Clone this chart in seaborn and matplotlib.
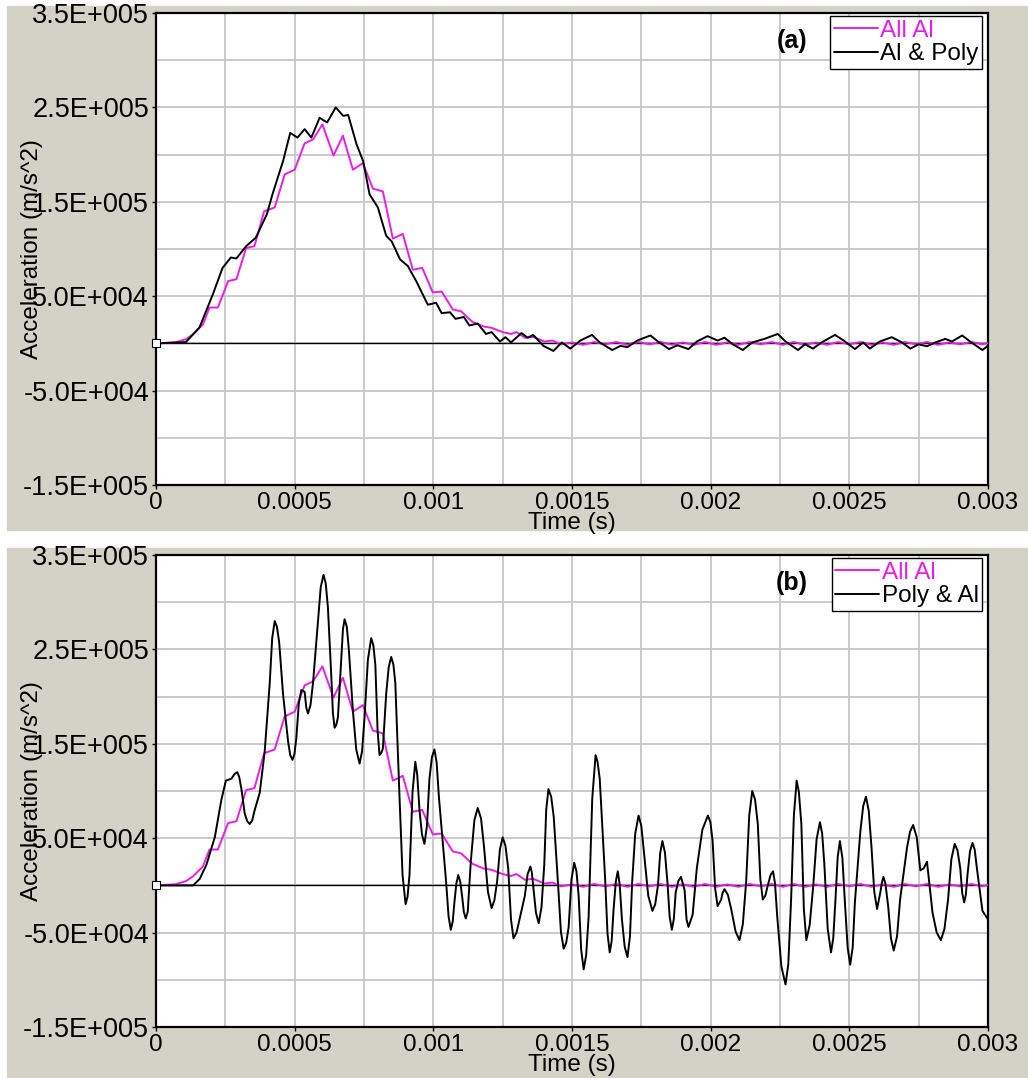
import numpy as np
import pandas as pd
import matplotlib
matplotlib.use("Agg")
import matplotlib.pyplot as plt
from matplotlib.patches import Rectangle
import seaborn as sns

# ---- data (time in s, acceleration in m/s^2) ----
# "All Al" curve (same in both panels)
t_all_al = [0, 0.00007, 0.000108, 0.000133, 0.000169, 0.000193, 0.000223, 0.00026, 0.00029,
            0.000325, 0.000355, 0.00039, 0.000428, 0.000464, 0.0005, 0.000536, 0.000566,
            0.0006, 0.00064, 0.000674, 0.00071, 0.000746, 0.000782, 0.000818, 0.000854,
            0.00089, 0.000926, 0.00096, 0.000998, 0.00103, 0.00107, 0.0011, 0.00114,
            0.00118, 0.00121, 0.00125, 0.00128, 0.0013, 0.00133, 0.00136, 0.0014, 0.00143,
            0.00146, 0.0015, 0.00154, 0.00158, 0.00162, 0.00166, 0.0017, 0.00174, 0.00178,
            0.00182, 0.00186, 0.0019, 0.00194, 0.00198, 0.00202, 0.00206, 0.0021, 0.00214,
            0.00218, 0.00222, 0.00226, 0.0023, 0.00234, 0.00238, 0.00242, 0.00246, 0.0025,
            0.00254, 0.00258, 0.00262, 0.00266, 0.0027, 0.00274, 0.00278, 0.00282, 0.00286,
            0.0029, 0.00294, 0.00298, 0.003]
a_all_al = [0, 1200, 4500, 9500, 20000, 38000, 38000, 66000, 68000,
            101000, 103000, 140000, 144000, 179000, 184000, 212000, 216000,
            232000, 199000, 220000, 184000, 191000, 164000, 161000, 111000,
            116000, 78000, 80000, 54000, 55000, 36000, 34000, 23000,
            18000, 16500, 12000, 10000, 12000, 6000, 7000, 2000, 3000,
            -1000, 1000, -1500, 1500, -1000, 1500, -1500, 1500, -1000,
            1500, -1500, 1000, -1500, 1500, -1500, 1000, -1500, 1500,
            -1000, 1500, -1500, 1500, -1500, 1000, -1500, 1500, -1000,
            1500, -1500, 1000, -1500, 1500, -1000, 1500, -1500, 1000,
            -1000, 1500, -1000, 500]

# "Al & Poly" curve, panel (a)
t_al_poly = [0, 0.000108, 0.000157, 0.000205, 0.00024, 0.00027, 0.00029, 0.000325, 0.00036,
             0.0004, 0.00042, 0.000458, 0.000484, 0.00051, 0.000536, 0.00056, 0.00059,
             0.000617, 0.000648, 0.000675, 0.000693, 0.000723, 0.000747, 0.00077, 0.0008,
             0.00083, 0.00085, 0.00088, 0.000908, 0.00094, 0.00098, 0.00101, 0.00103,
             0.00106, 0.00108, 0.00111, 0.00113, 0.00116, 0.00119, 0.00121, 0.00124,
             0.00126, 0.00128, 0.001318, 0.00134, 0.00136, 0.001397, 0.001433, 0.001463,
             0.001494, 0.00153, 0.001572, 0.0016, 0.001645, 0.001675, 0.0017, 0.001735,
             0.001783, 0.00181, 0.00185, 0.00188, 0.00192, 0.00195, 0.001989, 0.002025,
             0.00205, 0.00208, 0.002116, 0.00215, 0.002194, 0.002242, 0.00227, 0.002315,
             0.00234, 0.002369, 0.0024, 0.002448, 0.00248, 0.00252, 0.00255, 0.002574,
             0.00261, 0.002653, 0.00269, 0.00272, 0.00275, 0.00278, 0.00281, 0.002846,
             0.00287, 0.002907, 0.00294, 0.00298, 0.003]
a_al_poly = [0, 1400, 17000, 52000, 80000, 91000, 90000, 103000, 112000,
             137000, 158000, 193000, 223000, 218000, 227000, 218000, 239000,
             234000, 250000, 241000, 242000, 211000, 193000, 158000, 144000,
             114000, 108000, 89000, 82000, 65000, 41000, 43000, 32000,
             33000, 26000, 28000, 19000, 21000, 10000, 12000, 2000,
             6600, 1000, 11000, 6000, 9000, -2600, -8000, 1000,
             -5500, 3000, 9000, 1000, -7000, -2600, -4000, 3000,
             8400, 2000, -6000, -2000, -6000, 2000, 7700, 3000,
             6000, -1000, -7000, 1000, 4800, 10000, 2000, -7000,
             -1000, -5500, 1000, 9000, 3000, -6000, 1000, -5500,
             2000, 6600, 1000, -5500, -1000, -3000, 1000, 4800,
             2000, 8400, 1000, -7000, -2500]

# "Poly & Al" curve, panel (b): time in microseconds, acceleration in 1000 m/s^2
t_poly_al_us = [0, 134, 158, 182, 212, 236, 252, 272, 283, 293, 300, 308, 320, 329, 338, 347,
                356, 374, 392, 410, 419, 428, 436, 444, 458, 476, 484, 492, 499, 506, 515, 524,
                536, 542, 548, 557, 566, 584, 594, 604, 612, 620, 632, 638, 644, 650, 656, 668,
                674, 680, 688, 695, 710, 722, 734, 743, 752, 764, 776, 784, 791, 799, 806, 812,
                818, 830, 839, 848, 856, 863, 878, 889, 900, 907, 914, 925, 935, 942, 950, 959,
                968, 977, 986, 995, 1004, 1012, 1020, 1046, 1055, 1063, 1070, 1076, 1083, 1090,
                1097, 1104, 1110, 1117, 1124, 1135, 1148, 1160, 1172, 1183, 1197, 1210, 1220,
                1230, 1240, 1250, 1260, 1270, 1280, 1289, 1300, 1313, 1330, 1340, 1350, 1355,
                1360, 1370, 1380, 1390, 1400, 1407, 1415, 1425, 1434, 1450, 1460, 1470, 1479,
                1488, 1498, 1508, 1516, 1524, 1533, 1542, 1551, 1560, 1573, 1585, 1592, 1600,
                1620, 1628, 1636, 1643, 1650, 1658, 1665, 1672, 1680, 1690, 1700, 1709, 1717,
                1728, 1740, 1750, 1760, 1775, 1790, 1800, 1810, 1818, 1826, 1835, 1844, 1852,
                1860, 1867, 1874, 1884, 1893, 1906, 1913, 1920, 1935, 1950, 1970, 1990, 1999,
                2007, 2016, 2025, 2038, 2043, 2050, 2062, 2074, 2090, 2104, 2116, 2128, 2139,
                2150, 2160, 2170, 2179, 2188, 2197, 2206, 2216, 2225, 2232, 2240, 2255, 2270,
                2280, 2290, 2300, 2310, 2318, 2327, 2336, 2345, 2357, 2370, 2382, 2394, 2402,
                2410, 2422, 2434, 2442, 2450, 2458, 2466, 2475, 2484, 2494, 2503, 2512, 2520,
                2540, 2550, 2560, 2570, 2580, 2590, 2600, 2612, 2618, 2623, 2630, 2640, 2650,
                2660, 2672, 2683, 2708, 2719, 2730, 2743, 2756, 2768, 2780, 2800, 2815, 2830,
                2843, 2856, 2868, 2880, 2890, 2900, 2907, 2914, 2920, 2926, 2935, 2944, 2952,
                2960, 2980, 3000]
a_poly_al_k = [0, 0, 7, 22, 51, 91, 111, 113, 118, 120, 115, 102, 76, 68, 65, 69,
               80, 98, 142, 214, 262, 280, 274, 258, 203, 153, 138, 133, 139, 156, 193, 207,
               205, 188, 182, 191, 214, 280, 316, 329, 320, 294, 222, 182, 167, 170, 178, 240,
               271, 282, 274, 251, 185, 144, 129, 142, 178, 239, 262, 254, 233, 164, 138, 140,
               145, 203, 231, 242, 234, 214, 94, 11, -20, -12, 11, 99, 131, 117, 80, 54,
               44, 63, 113, 136, 144, 130, 94, 4, -33, -47, -38, -18, 2, 11,
               4, -12, -28, -35, -28, 25, 69, 82, 71, 40, -7, -24, -16,
               4, 38, 51, 42, 18, -36, -56, -50, -33, -11, 12, 20, 14,
               0, -29, -40, -23, 22, 80, 102, 94, 73, 0, -49, -67, -61,
               -44, 6, 24, 15, -11, -68, -89, -74, -33, 92, 138, 131, 113,
               4, -51, -71, -59, -25, 4, 15, 1, -36, -65, -76, -54, 4,
               55, 74, 63, 33, -11, -27, -20, 0, 34, 47, 35, 4, -33,
               -47, -36, -7, 5, 9, -5, -36, -44, -31, 18, 59, 74, 67,
               47, -3, -22, -15, -8, -4, -10, -25, -49, -58, -41, 4, 74,
               100, 91, 65, 7, -15, -11, 0, 11, 15, 2, -33, -86, -105,
               -83, -15, 74, 111, 99, 65, -25, -58, -42, 0, 49, 67, 55,
               22, -46, -71, -56, -15, 30, 47, 29, -18, -66, -84, -66, -18,
               58, 84, 94, 79, 40, -7, -25, -7, 4, 9, 2, -22, -56,
               -69, -54, -15, 40, 57, 64, 51, 16, 18, 25, -29, -50, -58,
               -46, -15, 28, 44, 37, 18, -8, -18, -10, 11, 36, 45, 38,
               18, -27, -36]

x_ticks = [0, 0.0005, 0.001, 0.0015, 0.002, 0.0025, 0.003]
x_tick_labels = ["0", "0.0005", "0.001", "0.0015", "0.002", "0.0025", "0.003"]
y_ticks = [-150000, -50000, 50000, 150000, 250000, 350000]
y_tick_labels = ["-1.5E+005", "-5.0E+004", "5.0E+004", "1.5E+005", "2.5E+005", "3.5E+005"]

# unit conversion for panel (b) series
t_poly_al = np.array(t_poly_al_us) * 1e-6
a_poly_al = np.array(a_poly_al_k) * 1e3

# ---- style ----
sns.set_style("white")
plt.rcParams["font.family"] = ["Liberation Sans", "DejaVu Sans"]
plt.rcParams["text.color"] = "black"
plt.rcParams["axes.labelcolor"] = "black"
plt.rcParams["xtick.color"] = "black"
plt.rcParams["ytick.color"] = "black"

W, H = 1028, 1078
GREY = "#d4d1c7"
MAGENTA = "#e81ee8"

fig = plt.figure(figsize=(W / 100, H / 100), dpi=100)
fig.patch.set_facecolor("white")

# grey window backgrounds of the two screenshots
fig.add_artist(Rectangle((7 / W, 1 - 530 / H), 1, (530 - 6) / H,
                         transform=fig.transFigure, color=GREY, zorder=-10))
fig.add_artist(Rectangle((7 / W, 0), 1, (1078 - 548) / H,
                         transform=fig.transFigure, color=GREY, zorder=-10))

panels = [
    ("(a)", "Al & Poly", t_al_poly, a_al_poly, 13),
    ("(b)", "Poly & Al", t_poly_al, a_poly_al, 555),
]

for tag, other_name, t_other, a_other, top in panels:
    ax = fig.add_axes([156 / W, 1 - (top + 472) / H, 832 / W, 472 / H])
    ax.set_facecolor("white")

    df_all = pd.DataFrame({"Time": t_all_al, "Acc": a_all_al})
    df_other = pd.DataFrame({"Time": t_other, "Acc": a_other})

    ax.axhline(0, color="black", lw=1.0, zorder=2)
    sns.lineplot(data=df_all, x="Time", y="Acc", ax=ax, color=MAGENTA, lw=1.4,
                 label="All Al", estimator=None, sort=False, zorder=3)
    sns.lineplot(data=df_other, x="Time", y="Acc", ax=ax, color="black", lw=1.4,
                 label=other_name, estimator=None, sort=False, zorder=4)
    ax.plot([t_all_al[0]], [0], marker="s", ms=6, mfc="white", mec="black",
            mew=0.8, clip_on=False, zorder=5)

    ax.set_xlim(0, 0.003)
    ax.set_ylim(-150000, 350000)
    ax.set_xticks(x_ticks)
    ax.set_xticklabels(x_tick_labels, fontsize=17.5)
    ax.set_xticks(np.arange(0.00025, 0.003, 0.0005), minor=True)
    ax.set_yticks(y_ticks)
    ax.set_yticklabels(y_tick_labels, fontsize=19.5)
    ax.set_yticks([-100000, 0, 100000, 200000, 300000], minor=True)
    ax.grid(True, which="both", color="#c6c6c6", lw=1.3, zorder=0)
    ax.set_axisbelow(True)
    ax.tick_params(axis="both", which="major", length=3, width=1, color="black",
                   pad=2, direction="out", left=True, bottom=True)
    ax.tick_params(axis="both", which="minor", length=0)

    for sp in ax.spines.values():
        sp.set_color("black")
        sp.set_linewidth(1.6)

    ax.set_xlabel("Time (s)", fontsize=17.5)
    ax.set_ylabel("Acceleration (m/s^2)", fontsize=17.5)
    ax.xaxis.set_label_coords(0.5, -0.058)
    ax.yaxis.set_label_coords(-0.136, 0.5)

    leg = ax.legend(loc="upper right", bbox_to_anchor=(0.993, 0.993), borderaxespad=0,
                    fontsize=17.5, frameon=True, fancybox=False, framealpha=1,
                    edgecolor="black", borderpad=0.15, labelspacing=0.05,
                    handlelength=1.8, handletextpad=0.1)
    leg.get_frame().set_linewidth(1.0)
    leg.get_texts()[0].set_color(MAGENTA)

    ax.text(0.764, 0.94, tag, transform=ax.transAxes, fontsize=18, fontweight="bold",
            color="black", ha="center", va="center")

fig.savefig("out.png", dpi=100, facecolor=fig.get_facecolor())
